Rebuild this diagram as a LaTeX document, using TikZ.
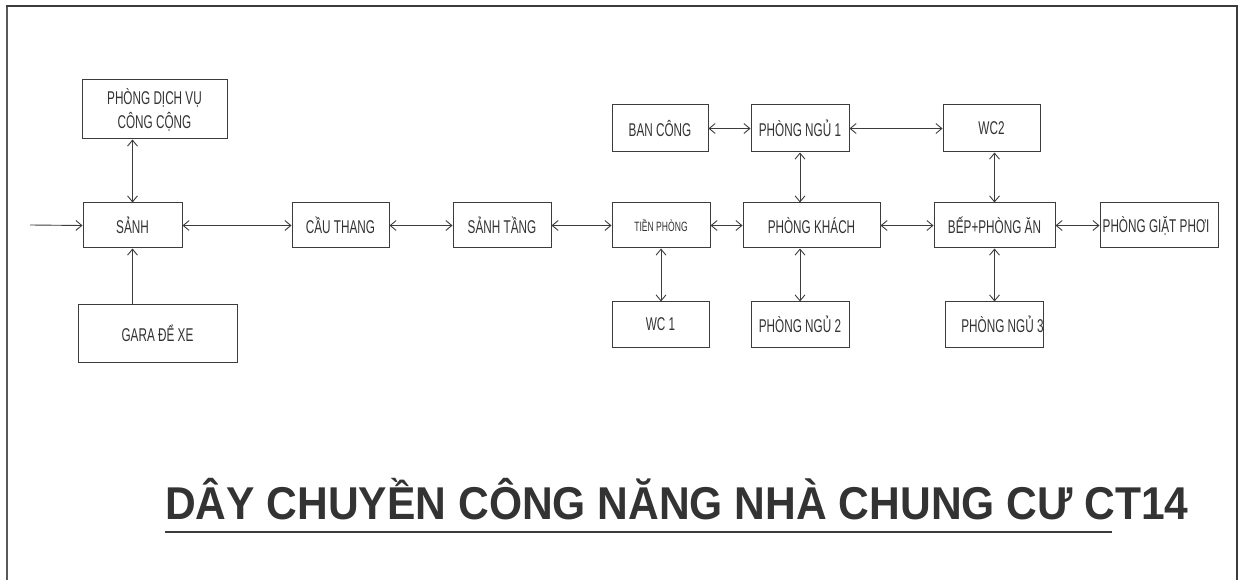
\documentclass[tikz,border=0pt]{standalone}
\usepackage{fontspec}
\setmainfont{Liberation Sans}
\newfontfamily\boxfont[FakeStretch=0.635]{Liberation Sans}
\newfontfamily\titlefont[FakeStretch=0.925]{Liberation Sans}
\usetikzlibrary{arrows.meta}
\definecolor{ink}{HTML}{333333}
\definecolor{edge}{HTML}{3C3C3C}
\tikzset{
  box/.style={draw=edge, line width=1pt, inner sep=0pt, align=center,
    text=ink, font=\boxfont\fontsize{18.5}{21}\selectfont},
  conn/.style={draw=edge, line width=0.9pt},
  both/.style={conn, {Straight Barb[length=6pt,width=10pt]}-{Straight Barb[length=6pt,width=10pt]}},
  one/.style={conn, -{Straight Barb[length=6pt,width=10pt]}},
}
\newcommand{\bx}[6]{%
  \node[box, minimum width={(#4-#2)*1pt}, minimum height={(#5-#3)*1pt}]
    (#1) at ({(#2+#4)/2},{(#3+#5)/2}) {#6};}
\begin{document}
\begin{tikzpicture}[x=1pt,y=-1pt]
\useasboundingbox (0,0) rectangle (1243,580);
% frame
\draw[gray!70!black, line width=1.8pt] (7,580) -- (7,6);
\draw[edge, line width=1.2pt] (6.2,6) -- (1237,6) -- (1237,580);

% boxes
\bx{pdv}{82}{80}{227}{139}{PHÒNG DỊCH VỤ\\[3pt]CÔNG CỘNG}
\bx{sanh}{83}{203}{182}{248}{SẢNH}
\bx{gara}{78}{305}{237}{362}{GARA ĐỂ XE}
\bx{cau}{292}{203}{389}{248}{CẦU THANG}
\bx{sanhtang}{453}{203}{551}{248}{SẢNH TẦNG}
\bx{tien}{612}{203}{710}{248}{\fontsize{13.5}{16}\selectfont TIỀN PHÒNG}
\bx{bancong}{612}{105}{708}{152}{BAN CÔNG}
\bx{pn1}{751}{105}{849}{152}{PHÒNG NGỦ 1}
\bx{pk}{743}{203}{880}{248}{PHÒNG KHÁCH}
\bx{wc1}{612}{302}{709}{347}{WC 1}
\bx{pn2}{751}{302}{849}{347}{PHÒNG NGỦ 2}
\bx{wc2}{943}{105}{1040}{152}{WC2}
\bx{bep}{934}{203}{1055}{248}{BẾP+PHÒNG ĂN}
\bx{pgp}{1100}{203}{1218}{248}{PHÒNG GIẶT PHƠI\hspace*{6pt}}
\bx{pn3}{946}{302}{1043}{347}{\hspace*{16pt}PHÒNG NGỦ 3}

% entry
\coordinate (entry) at (30,225);
\draw[one] (entry) -- (sanh.west);

% vertical links
\draw[both] (sanh.north) -- (sanh.north |- pdv.south);
\draw[one] (sanh.south |- gara.north) -- (sanh.south);
\draw[both] (tien.south) -- (tien.south |- wc1.north);
\draw[both] (pn1.south) -- (pn1.south |- pk.north);
\draw[both] (pn2.north |- pk.south) -- (pn2.north);
\draw[both] (bep.north |- wc2.south) -- (bep.north);
\draw[both] (bep.south) -- (bep.south |- pn3.north);

% horizontal links
\draw[both] (sanh.east) -- (cau.west);
\draw[both] (cau.east) -- (sanhtang.west);
\draw[both] (sanhtang.east) -- (tien.west);
\draw[both] (tien.east) -- (pk.west);
\draw[both] (pk.east) -- (bep.west);
\draw[both] (bep.east) -- (pgp.west);
\draw[both] (bancong.east) -- (pn1.west);
\draw[both] (pn1.east) -- (wc2.west);

% title
\node[anchor=base west, inner sep=0pt, text=ink,
  font=\titlefont\bfseries\fontsize{46}{50}\selectfont] (title) at (165,519)
  {DÂY CHUYỀN CÔNG NĂNG NHÀ CHUNG CƯ CT14};
\draw[edge, line width=1.5pt] ([yshift=-13pt]title.base west) -- ++(947,0);
\end{tikzpicture}
\end{document}
